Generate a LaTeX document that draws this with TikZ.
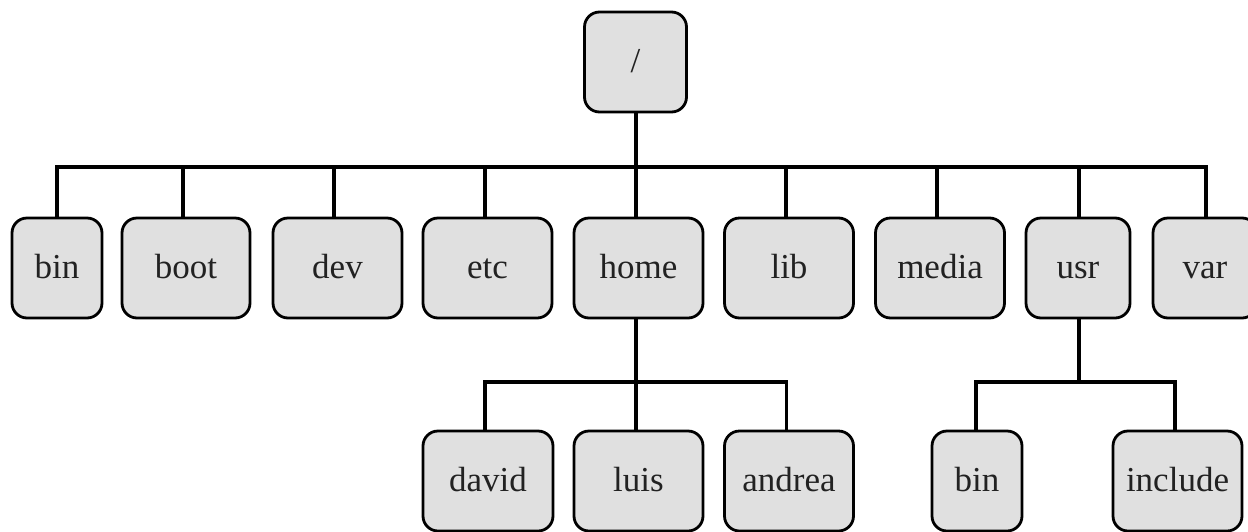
\documentclass[tikz,border=0pt]{standalone}
\usepackage{fontspec}
\setmainfont{Liberation Serif}
\begin{document}
\begin{tikzpicture}[x=0.5pt,y=-0.5pt,
  dirbox/.style={draw=black, line width=1.4pt, fill=boxgray, rounded corners=7.5pt,
    minimum height=50pt, inner sep=0pt, text=txtgray, text height=11pt, text depth=0.5pt,
    font=\fontsize{17.5}{20}\selectfont},
  wide/.style={minimum width=64.5pt},
  narrow/.style={minimum width=45pt},
  link/.style={draw=black, line width=1.6pt, line cap=rect}]
\definecolor{boxgray}{HTML}{E0E0E0}
\definecolor{txtgray}{HTML}{222222}
\useasboundingbox (0,0) rectangle (1248,531);
\clip (0,0) rectangle (1248,531);
% connectors drawn first, nodes on top
\coordinate (topbar) at (636,167);
\coordinate (homebar) at (636,382);
\coordinate (usrbar) at (1079,382);
% root
\node[dirbox, minimum width=51pt] (root) at (635.5,62) {/};
% first level
\node[dirbox, narrow] (bin) at (57,268) {bin};
\node[dirbox, wide, minimum width=64pt] (boot) at (186,268) {boot};
\node[dirbox, wide] (dev) at (337.5,268) {dev};
\node[dirbox, wide] (etc) at (487.5,268) {etc};
\node[dirbox, wide] (home) at (638.5,268) {home};
\node[dirbox, wide] (lib) at (789,268) {lib};
\node[dirbox, wide] (media) at (940,268) {media};
\node[dirbox, minimum width=52pt] (usr) at (1078,268) {usr};
\node[dirbox, minimum width=52pt] (var) at (1205,268) {var};
% second level
\node[dirbox, wide, minimum width=65pt] (david) at (488,481) {david};
\node[dirbox, wide] (luis) at (638.5,481) {luis};
\node[dirbox, wide] (andrea) at (789,481) {andrea};
\node[dirbox, narrow] (ubin) at (977,481) {bin};
\node[dirbox, wide] (include) at (1177.5,481) {include};
% connectors
\draw[link] ([xshift=0.25pt]root.south) -- (topbar);
\draw[link] (bin.north) |- (topbar);
\draw[link] ([xshift=-1.5pt]boot.north) |- (topbar);
\draw[link] ([xshift=-1.75pt]dev.north) |- (topbar);
\draw[link] ([xshift=-1.25pt]etc.north) |- (topbar);
\draw[link] ([xshift=-1.25pt]home.north) -- (topbar);
\draw[link] ([xshift=-1.5pt]lib.north) |- (topbar);
\draw[link] ([xshift=-1.5pt]media.north) |- (topbar);
\draw[link] ([xshift=0.5pt]usr.north) |- (topbar);
\draw[link] ([xshift=0.5pt]var.north) |- (topbar);
\draw[link] ([xshift=-1.25pt]home.south) -- (homebar);
\draw[link] ([xshift=-1.5pt]david.north) |- (homebar);
\draw[link] ([xshift=-1.25pt]luis.north) -- (homebar);
\draw[link] ([xshift=-1.25pt]andrea.north) |- (homebar);
\draw[link] ([xshift=0.5pt]usr.south) -- (usrbar);
\draw[link] ([xshift=-0.5pt]ubin.north) |- (usrbar);
\draw[link] ([xshift=-1.25pt]include.north) |- (usrbar);
\end{tikzpicture}
\end{document}
